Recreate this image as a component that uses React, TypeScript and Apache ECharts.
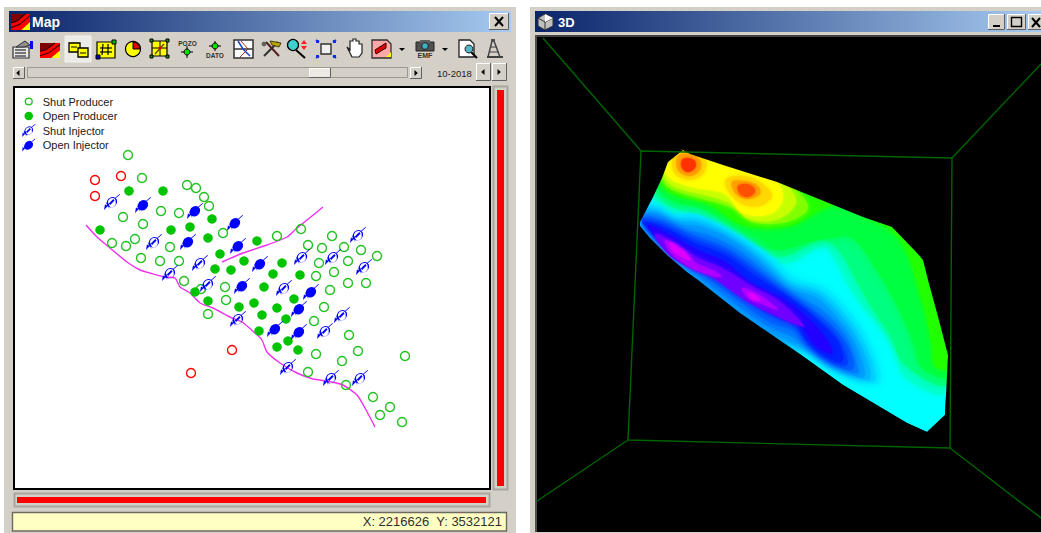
import React, { useEffect, useRef } from "react";
import * as echarts from "echarts";

type P = [number, number];

// ---------- map wells (in screen units) ----------
const shutProducers: P[] = [[128,155],[142,178],[187,185],[196,188],[204,197],[209,206],[161,211],[179,213],[123,217],[143,224],[223,233],[135,239],[112,243],[126,246],[170,247],[141,258],[160,261],[179,261],[184,281],[201,289],[225,287],[226,300],[208,314],[301,229],[277,236],[308,245],[332,236],[322,248],[344,247],[361,250],[377,256],[319,263],[348,261],[316,276],[334,272],[348,283],[366,283],[330,290],[324,307],[314,321],[349,335],[316,354],[342,361],[358,351],[405,356],[308,372],[346,385],[373,397],[390,407],[380,415],[402,422]];
const openProducers: P[] = [[129,191],[163,191],[212,219],[190,227],[171,230],[100,230],[208,238],[257,241],[220,254],[244,261],[282,263],[215,269],[231,270],[273,274],[300,275],[264,287],[195,292],[208,301],[239,307],[254,303],[277,308],[294,299],[262,315],[286,319],[259,331],[288,341],[277,347],[298,350]];
const shutInjectors: P[] = [[112,202],[154,242],[200,263],[170,273],[208,284],[302,257],[333,257],[358,235],[364,267],[284,288],[342,315],[325,331],[238,319],[288,367],[331,378],[360,378]];
const openInjectors: P[] = [[143,205],[195,211],[235,223],[188,242],[238,246],[260,264],[242,286],[311,292],[299,309],[275,329],[299,332]];
const otherWells: P[] = [[95,180],[121,176],[95,196],[232,350],[191,373]];
const faultSouth: P[] = [[86,225],[97,237],[110,248],[127,262],[140,270],[150,273],[165,277],[175,278],[180,287],[190,293],[200,303],[213,308],[230,317],[242,322],[255,333],[262,340],[267,352],[280,363],[297,373],[313,379],[327,381],[343,385],[357,395],[365,408],[375,427]];
const faultNorth: P[] = [[222,262],[243,253],[267,245],[287,237],[297,228],[307,220],[317,212],[323,207]];
const legendNames = ["Shut Producer", "Open Producer", "Shut Injector", "Open Injector"];

// ---------- 3D view ----------
const boxFront: P[] = [[641,151],[952,158],[950,448],[628,440],[641,151]];
const boxCornerA: P[] = [[543,38],[641,151]];
const boxCornerB: P[] = [[952,158],[1041,64]];
const boxCornerC: P[] = [[628,440],[537,501]];
const boxCornerD: P[] = [[950,448],[1041,518]];
const surfaceOutline: P[] = [[683,150],[668,162],[662,178],[653,197],[640,222],[640,226],[650,238],[667,255],[687,272],[698,280],[740,313],[797,352],[843,385],[907,423],[927,432],[945,415],[948,355],[937,313],[928,280],[923,260],[917,253],[892,227],[863,217],[777,182],[723,165],[690,154]];
const surfaceBands: { color: string; blur: number; pts: P[] }[] = [
  { color: "#00ffff", blur: 0, pts: surfaceOutline },
  // rising side
  { color: "#00ffd0", blur: 9, pts: [[648,190],[667,212],[697,224],[730,241],[763,262],[790,263],[823,247],[834,258],[848,285],[862,306],[876,322],[895,350],[905,378],[948,392],[952,300],[925,220],[683,146],[650,170]] },
  { color: "#00ff80", blur: 9, pts: [[651,186],[668,205],[700,216],[733,234],[765,254],[786,256],[822,240],[840,252],[856,280],[872,308],[890,335],[905,365],[948,384],[952,300],[925,220],[683,146],[652,170]] },
  { color: "#00ff40", blur: 8, pts: [[655,183],[670,200],[704,210],[740,232],[772,250],[818,240],[832,238],[852,238],[878,272],[900,312],[914,345],[922,368],[948,376],[952,300],[925,220],[683,146],[655,170]] },
  { color: "#20ff00", blur: 6, pts: [[660,180],[672,194],[708,204],[745,226],[790,226],[835,205],[865,216],[900,240],[922,300],[932,345],[935,366],[948,368],[952,300],[925,220],[683,146]] },
  { color: "#80ff00", blur: 5, pts: [[662,176],[673,190],[730,207],[753,222],[787,222],[808,208],[790,186],[683,146]] },
  { color: "#c8ff00", blur: 4, pts: [[664,172],[673,186],[728,202],[749,219],[778,219],[796,202],[782,182],[683,146]] },
  { color: "#ffff00", blur: 3, pts: [[665,165],[670,178],[692,187],[725,194],[743,213],[770,214],[783,198],[773,178],[723,160],[688,146]] },
  { color: "#ffd800", blur: 4, pts: [[726,179],[728,191],[742,204],[760,206],[772,196],[763,184],[745,176]] },
  { color: "#ffd800", blur: 4, pts: [[675,150],[672,165],[676,175],[690,180],[703,174],[706,160],[694,152]] },
  { color: "#ffa000", blur: 3, pts: [[732,182],[736,194],[747,199],[760,194],[758,186],[745,181]] },
  { color: "#ffa000", blur: 3, pts: [[678,156],[678,170],[690,176],[700,170],[700,160],[690,154]] },
  { color: "#ff5000", blur: 3, pts: [[738,186],[740,194],[748,197],[755,192],[753,187],[746,184]] },
  { color: "#ff3000", blur: 3, pts: [[682,160],[682,168],[688,172],[695,168],[695,161],[688,158]] },
  // falling side
  { color: "#00f0ff", blur: 10, pts: [[640,205],[655,204],[673,214],[695,214],[730,230],[768,254],[795,277],[826,288],[855,318],[873,350],[880,383],[850,376],[830,368],[805,352],[785,355],[760,340],[715,307],[692,288],[677,270],[657,247],[643,232]] },
  { color: "#00d8ff", blur: 10, pts: [[640,208],[655,208],[673,218],[695,218],[730,234],[765,258],[790,281],[822,292],[850,320],[868,350],[875,381],[850,375],[830,366],[805,350],[785,350],[760,335],[720,305],[695,285],[680,268],[660,245],[645,230]] },
  { color: "#00bcff", blur: 9, pts: [[641,211],[656,211],[675,221],[697,222],[732,238],[765,262],[788,284],[819,295],[846,322],[863,350],[870,379],[844,371],[818,356],[797,346],[775,338],[742,316],[708,292],[690,276],[671,255],[655,238]] },
  { color: "#00a0ff", blur: 9, pts: [[642,214],[658,214],[678,224],[700,226],[735,242],[765,266],[787,288],[817,298],[842,324],[858,350],[864,377],[838,367],[808,347],[790,342],[765,330],[725,302],[700,282],[683,266],[663,243],[650,232]] },
  { color: "#0080ff", blur: 8, pts: [[642,216],[660,218],[684,229],[711,236],[741,252],[768,274],[795,295],[822,310],[845,335],[855,360],[858,373],[835,365],[808,347],[793,337],[768,326],[730,300],[703,279],[681,262],[659,241]] },
  { color: "#0060ff", blur: 8, pts: [[642,218],[663,222],[690,234],[722,246],[748,262],[772,282],[802,303],[828,322],[848,346],[853,369],[832,364],[808,346],[797,332],[770,322],[735,298],[705,276],[680,258],[655,238]] },
  { color: "#0040ff", blur: 7, pts: [[642,220],[664,225],[691,238],[723,250],[752,269],[778,288],[808,310],[833,332],[845,352],[847,365],[828,360],[807,343],[796,327],[768,313],[735,291],[702,270],[677,253],[655,236]] },
  { color: "#0020ff", blur: 6, pts: [[642,222],[665,228],[692,242],[725,255],[755,276],[785,295],[815,318],[838,342],[842,362],[825,356],[806,340],[795,322],[765,305],[735,285],[700,265],[675,248],[655,234]] },
  { color: "#2000ff", blur: 5, pts: [[648,225],[670,235],[697,250],[725,262],[750,282],[785,300],[812,322],[830,345],[832,354],[815,345],[800,325],[775,315],[745,296],[715,274],[690,262],[670,250],[655,236]] },
  { color: "#7000ff", blur: 4, pts: [[655,234],[675,243],[698,258],[722,268],[750,285],[780,302],[804,326],[795,324],[775,315],[748,302],[728,288],[710,276],[690,268],[668,254]] },
  { color: "#b000ff", blur: 3, pts: [[665,240],[685,251],[696,263],[712,270],[722,277],[706,274],[688,266],[672,254]] },
  { color: "#b000ff", blur: 3, pts: [[742,288],[758,294],[772,304],[778,310],[762,304],[748,298]] },
  { color: "#e000ff", blur: 3, pts: [[670,243],[684,252],[690,260],[680,256],[672,250]] },
  { color: "#e000ff", blur: 3, pts: [[748,293],[755,295],[760,300],[752,299]] },
];
// Black frame round the surface that trims soft band edges to the outline.
const maskFrame: P[] = [[610,120],[985,120],[985,470],[610,470],[610,120]];

const FONT = "Liberation Sans";
const FACE = "#d4d0c8";

const rect = (x: number, y: number, width: number, height: number, fill: string, stroke?: string, lineWidth = 1) => ({ type: "rect", silent: true, shape: { x, y, width, height }, style: { fill, stroke, lineWidth } });
const seg = (x1: number, y1: number, x2: number, y2: number, stroke: string, lineWidth = 1) => ({ type: "line", silent: true, shape: { x1, y1, x2, y2 }, style: { stroke, lineWidth } });
const poly = (points: number[][], fill: string, stroke?: string, lineWidth = 1) => ({ type: "polygon", silent: true, shape: { points }, style: { fill, stroke, lineWidth } });
const pl = (points: number[][], stroke: string, lineWidth = 1) => ({ type: "polyline", silent: true, shape: { points }, style: { fill: "none", stroke, lineWidth } });
const circ = (cx: number, cy: number, r: number, fill: string, stroke?: string, lineWidth = 1) => ({ type: "circle", silent: true, shape: { cx, cy, r }, style: { fill, stroke, lineWidth } });
const txt = (text: string, x: number, y: number, font: string, fill = "#000", textAlign = "left") => ({ type: "text", silent: true, style: { text, x, y, font, fill, textAlign, textVerticalAlign: "middle" } });

const bevel = (x: number, y: number, w: number, h: number, up = true, face = FACE): any[] => [
  rect(x, y, w, h, face),
  pl([[x + 0.5, y + h], [x + 0.5, y + 0.5], [x + w, y + 0.5]], up ? "#fff" : "#808080"),
  pl([[x + w - 0.5, y], [x + w - 0.5, y + h - 0.5], [x, y + h - 0.5]], up ? "#606060" : "#fff"),
];
const tri = (cx: number, cy: number, dir: number, s = 3): any => poly([[cx + dir * s * 0.6, cy], [cx - dir * s * 0.5, cy - s], [cx - dir * s * 0.5, cy + s]], "#000");
const mapIcon = (x: number, y: number, w: number, h: number): any[] => {
  const q = (a: number, b: number) => [x + a * w, y + b * h];
  return [
    rect(x, y, w, h, "#ff0000"),
    poly([q(0, 0), q(0.75, 0), q(0.3, 0.45), q(0, 0.55)], "#800000"),
    pl([q(0, 0.55), q(0.3, 0.45), q(0.75, 0)], "#300000", 1.2),
    pl([q(0, 0.85), q(0.45, 0.65), q(1, 0.1)], "#500000", 1.2),
    poly([q(1, 0.5), q(1, 1), q(0.55, 1)], "#ffff00"),
  ];
};

const toolbarIcons = (): any[] => {
  const k = "#000";
  const y = "#ffff00";
  return [
    // properties
    rect(13, 47, 16, 11, "#e8e8e8", "#303030", 1.2), seg(15, 50, 26, 50, k), seg(15, 53, 26, 53, k), seg(15, 56, 26, 56, k),
    poly([[16, 47], [25, 41], [30, 45], [24, 47]], "#909090", "#303030"), rect(30, 41, 3, 8, "#0000ff"),
    // map
    ...mapIcon(40, 43, 20, 15),
    // select button
    rect(65, 36, 26, 26, "#ecebe6", "#f4f3ef"),
    rect(69, 43, 11, 9, y, k, 1.3), rect(78, 48, 10, 9, y, k, 1.3), seg(71, 47, 77, 47, k), seg(80, 53, 86, 53, k),
    // grid
    rect(97, 42, 18, 16, y, k, 1.2), seg(103, 44, 102, 55, k, 1.2), seg(108, 44, 108, 55, k, 1.2), seg(100, 48, 112, 48, k, 1.2), seg(100, 52, 112, 52, k, 1.2),
    rect(112, 40, 4, 4, "#00c000", k), rect(96, 55, 4, 4, "#0000c0", k),
    // pie
    circ(133, 49, 7.5, y, k, 1.2),
    { type: "sector", silent: true, shape: { cx: 133, cy: 49, r: 7, r0: 0, startAngle: -Math.PI / 2, endAngle: 0 }, style: { fill: "#e00000", stroke: k } },
    // yellow cell
    rect(152, 41, 15, 15, y, k, 1.2), seg(160, 41, 160, 56, k), seg(152, 48, 167, 48, k), seg(155, 54, 164, 44, "#604000", 1.2), circ(160, 48, 1.5, "#e00000"),
    rect(150, 39, 3, 3, "#00a000", k), rect(166, 39, 3, 3, "#00a000", k), rect(150, 55, 3, 3, "#00a000", k), rect(166, 55, 3, 3, "#00a000", k),
    // POZO
    txt("POZO", 187.5, 43.5, `bold 6.5px ${FONT}`, "#303030", "center"), seg(187, 46, 187, 58, k), seg(181, 52, 193, 52, k), circ(187, 52, 3, "#00e000", k),
    // DATO
    txt("DATO", 215, 55, `bold 6.5px ${FONT}`, "#303030", "center"), seg(215, 41, 215, 51, k), seg(209, 46, 221, 46, k), circ(215, 46, 3, "#00e000", k),
    // base map
    rect(234, 40, 19, 18, "#fff", "#303030", 1.5), seg(234, 49, 253, 49, "#303030", 1.5), pl([[238, 41], [243, 49], [250, 56]], "#2040d0", 1.5), pl([[241, 41], [248, 49], [240, 57]], "#a03030", 1),
    // tools
    seg(264, 56, 278, 42, "#303030", 2), seg(266, 42, 279, 56, "#502020", 2), poly([[270, 41], [281, 43], [279, 47], [272, 45]], "#c0a000", "#404000"), circ(264, 44, 2.4, "#606060"),
    // zoom +/-
    seg(296, 50, 305, 58, k, 2), circ(293, 45, 5.5, "#40d0d0", k, 1.3), poly([[304, 40], [301, 44], [307, 44]], "#ff2020"), poly([[304, 50], [301, 46], [307, 46]], "#ff2020"),
    // extents
    rect(321, 44, 10, 10, "#f0f0f0", "#303030", 1.4), seg(319, 42, 316, 40, "#1030e0", 2), seg(333, 42, 336, 40, "#1030e0", 2), seg(319, 56, 316, 58, "#1030e0", 2), seg(333, 56, 336, 58, "#1030e0", 2),
    rect(316, 40, 3, 3, "#1030e0"), rect(333, 40, 3, 3, "#1030e0"), rect(316, 55, 3, 3, "#1030e0"), rect(333, 55, 3, 3, "#1030e0"),
    // hand
    poly([[347, 47], [350, 50], [350, 41], [353, 41], [353, 39], [356, 39], [356, 41], [359, 41], [359, 44], [362, 44], [362, 53], [359, 57], [352, 57]], "#fff", "#202020", 1.2),
    // file
    poly([[372, 40], [387, 40], [391, 44], [391, 58], [372, 58]], "#ffa8a8", "#303030", 1.3), poly([[375, 50], [386, 43], [386, 48], [376, 54]], "#e00000", "#300000"), poly([[391, 52], [391, 57], [386, 57]], y),
    poly([[399, 48], [405, 48], [402, 51]], k),
    // camera
    rect(416, 42, 18, 9, "#505050", "#202020"), rect(420, 40, 10, 3, "#606060"), circ(425, 46, 3.3, "#40b0c0", "#202020"), txt("EMF", 425, 55, `bold 7px ${FONT}`, "#303030", "center"),
    poly([[442, 48], [448, 48], [445, 51]], k),
    // preview
    poly([[459, 40], [470, 40], [474, 44], [474, 57], [459, 57]], "#fff", "#202020", 1.3), seg(471, 52, 477, 58, k, 2), circ(469, 49, 4, "#50b8c8", "#202020"),
    // derrick
    pl([[492, 41], [488, 57]], "#404040", 1.4), pl([[494, 41], [500, 57]], "#404040", 1.4), seg(490, 47, 497, 47, "#404040"), seg(489, 52, 499, 52, "#404040"), rect(487, 56, 16, 2, "#404040"), rect(491, 39, 4, 3, "#505050"),
  ];
};

const chrome = (): any[] => {
  const title = () => new echarts.graphic.LinearGradient(0, 0, 1, 0, [{ offset: 0, color: "#0a246a" }, { offset: 1, color: "#a6caf0" }]);
  return [
    // ---- Map window ----
    rect(4, 7, 512, 526, FACE),
    rect(9, 11, 502, 21, title() as any),
    ...mapIcon(11, 14, 19, 16),
    txt("Map", 32, 22, `bold 14px ${FONT}`, "#fff"),
    ...bevel(489, 13, 20, 17),
    seg(495, 17, 503, 26, "#000", 2), seg(503, 17, 495, 26, "#000", 2),
    ...toolbarIcons(),
    // scroller
    ...bevel(13, 67, 12, 12, true), tri(18, 73, -1),
    rect(27.5, 67.5, 380, 10, "#d4d0c8", "#9c9890"),
    ...bevel(309, 68, 22, 10, true, "#ece9e2"),
    ...bevel(410, 67, 12, 12, true), tri(416, 73, 1),
    txt("10-2018", 437, 73, `9.5px ${FONT}`, "#202020"),
    ...bevel(476, 63, 15, 18, true), tri(483, 72, -1),
    ...bevel(492, 63, 15, 18, true), tri(499, 72, 1),
    // plot
    rect(14, 87, 476, 402, "#fff", "#000", 2),
    // side indicator
    rect(493.5, 86.5, 14, 403, FACE, "#a8a59e", 2),
    rect(497, 90, 7, 396, "#ff0000"),
    // bottom indicator
    rect(14.5, 493.5, 475, 13, FACE, "#a8a59e", 2),
    rect(17, 497, 469, 6, "#ff0000"),
    // status
    rect(12.5, 512.5, 494, 18.5, "#ffffc4", "#6c6a60", 1.4),
    txt("X: 2216626  Y: 3532121", 502, 521, `13px ${FONT}`, "#303030", "right"),
    // ---- 3D window ----
    rect(530, 7, 511, 526, FACE),
    rect(535, 11, 506, 21, title() as any),
    poly([[538, 18], [545, 14], [553, 18], [553, 26], [545, 30], [538, 26]], "#c0c0c0", "#303030"),
    pl([[538, 18], [545, 22], [553, 18]], "#303030"), seg(545, 22, 545, 30, "#303030"), poly([[545, 14], [553, 18], [545, 22]], "#fff"),
    txt("3D", 558, 22, `bold 13px ${FONT}`, "#fff"),
    ...bevel(988, 14, 17, 16), rect(993, 25, 7, 2, "#000"),
    ...bevel(1007, 14, 19, 16), rect(1011.5, 17.5, 10, 9, "none", "#000", 1.4),
    ...bevel(1028, 14, 15, 16), seg(1032, 18, 1040, 27, "#000", 2), seg(1040, 18, 1032, 27, "#000", 2),
    rect(535, 35, 506, 2, "#404040"),
    rect(535, 35, 2, 497, "#505050"),
    rect(537, 37, 504, 495, "#000"),
  ];
};

// Injector symbols: tilted ellipse, tail up-right, arrow down-left.
const tail = "M10.2 3.3 L14 0 L14.5 0.5 L10.7 3.8 Z ";
const arrow = "M3.5 10.6 L0 14 L0.9 9 L2 10.1 L3 9.1 L4.9 11 L3.9 12 L5 13.1 Z ";
const blobPath = "M3.4 10.6 A 5.1 4.3 -45 1 1 10.6 3.4 A 5.1 4.3 -45 1 1 3.4 10.6 Z ";
const holePath = "M4.6 9.4 A 3.4 2.6 -45 1 0 9.4 4.6 A 3.4 2.6 -45 1 0 4.6 9.4 Z ";
const hatch = "M4.4 8.4 L8.4 4.4 L9.6 5.6 L5.6 9.6 Z ";
const shutInjectorSymbol = "path://" + blobPath + holePath + hatch + tail + arrow;
const openInjectorSymbol = "path://" + blobPath + tail + arrow;
// Legend icons share one box, so the round ones carry invisible corner points.
const corners = "M0 0 L0.01 0 Z M14 14 L14.01 14 Z ";
const ringIcon = "path://" + corners + "M2.6 7 A 4.4 4.4 0 1 1 11.4 7 A 4.4 4.4 0 1 1 2.6 7 Z M4 7 A 3 3 0 1 0 10 7 A 3 3 0 1 0 4 7 Z";
const dotIcon = "path://" + corners + "M2.4 7 A 4.6 4.6 0 1 1 11.6 7 A 4.6 4.6 0 1 1 2.4 7 Z";

const GREEN = "#00c400";
const BLUE = "#0000ff";
const ringStyle = (color: string) => ({ color: "rgba(255,255,255,0)", borderColor: color, borderWidth: 1.4, opacity: 1 });

export default function App() {
  const ref = useRef<HTMLDivElement>(null);
  useEffect(() => {
    document.documentElement.style.margin = "0";
    document.body.style.margin = "0";
    const chart = echarts.init(ref.current!, undefined, { renderer: "svg" });
    const mapSeries = (name: string, data: P[], symbol: string, symbolSize: number, itemStyle: any, z: number) => ({
      type: "scatter", name, data, symbol, symbolSize, itemStyle, z, silent: true, clip: false,
    });
    const toPoints = (api: any, pts: P[]) => pts.map((p) => api.coord(p));
    const boxLine = (name: string, data: P[]) => ({
      type: "line", name, data, symbol: "none", silent: true, z: 6, clip: false, lineStyle: { color: "#006400", width: 1.4 },
    });
    const fault = (name: string, data: P[]) => ({
      type: "line", name, data, symbol: "none", smooth: 0.2, silent: true, z: 3, clip: false, lineStyle: { color: "#f030f0", width: 1.4 },
    });
    chart.setOption({
      animation: false,
      backgroundColor: "#fff",
      grid: { left: 0, right: 0, top: 0, bottom: 0 },
      xAxis: { type: "value", min: 0, max: 1041, show: false },
      yAxis: { type: "value", min: 0, max: 533, inverse: true, show: false },
      tooltip: { show: false },
      legend: {
        orient: "vertical", left: 22, top: 95, padding: 0, itemGap: 1.5, itemWidth: 14, itemHeight: 13, z: 10, selectedMode: false,
        textStyle: { fontFamily: FONT, fontSize: 11, color: "#202020", padding: [0, 0, 0, 2] },
        data: [
          { name: legendNames[0], icon: ringIcon, itemStyle: { color: "#20c020", borderWidth: 0, opacity: 1 } },
          { name: legendNames[1], icon: dotIcon, itemStyle: { color: GREEN, borderWidth: 0, opacity: 1 } },
          { name: legendNames[2], icon: shutInjectorSymbol, itemStyle: { color: BLUE, borderWidth: 0, opacity: 1 } },
          { name: legendNames[3], icon: openInjectorSymbol, itemStyle: { color: BLUE, borderWidth: 0, opacity: 1 } },
        ],
      },
      graphic: { elements: chrome() },
      series: [
        fault("Fault south", faultSouth),
        fault("Fault north", faultNorth),
        mapSeries(legendNames[0], shutProducers, "circle", 9, ringStyle("#20c020"), 4),
        mapSeries(legendNames[1], openProducers, "circle", 9.5, { color: GREEN, opacity: 1 }, 4),
        mapSeries("Other wells", otherWells, "circle", 9, ringStyle("#ff0000"), 4),
        mapSeries(legendNames[2], shutInjectors, shutInjectorSymbol, 16, { color: BLUE, opacity: 1 }, 5),
        mapSeries(legendNames[3], openInjectors, openInjectorSymbol, 16, { color: BLUE, opacity: 1 }, 5),
        {
          type: "custom", name: "Surface", silent: true, clip: false, z: 4, coordinateSystem: "cartesian2d",
          data: surfaceBands.map((_, i) => [i]),
          encode: { x: 0, y: 0 },
          renderItem: (params: any, api: any) => {
            const band = surfaceBands[params.dataIndex];
            return {
              type: "polygon", silent: true,
              shape: { points: toPoints(api, band.pts), smooth: band.blur ? 0.35 : 0 },
              style: { fill: band.color, shadowBlur: band.blur, shadowColor: band.color },
            };
          },
        },
        {
          type: "custom", name: "Surface trim", silent: true, clip: false, z: 5, coordinateSystem: "cartesian2d",
          data: [[0]],
          encode: { x: 0, y: 0 },
          renderItem: (_: any, api: any) => ({
            type: "polygon", silent: true,
            shape: { points: toPoints(api, [...maskFrame, ...[...surfaceOutline, surfaceOutline[0]], maskFrame[0]] as P[]) },
            style: { fill: "#000" },
          }),
        },
        boxLine("Box front", boxFront),
        boxLine("Box corner A", boxCornerA),
        boxLine("Box corner B", boxCornerB),
        boxLine("Box corner C", boxCornerC),
        boxLine("Box corner D", boxCornerD),
      ],
    });
    return () => chart.dispose();
  }, []);
  return <div ref={ref} style={{ width: 1041, height: 533 }} />;
}
